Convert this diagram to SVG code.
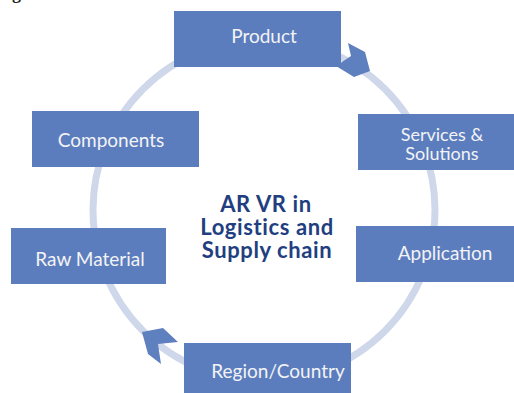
<svg xmlns="http://www.w3.org/2000/svg" width="514" height="393" viewBox="0 0 514 393">
<style>
.box{fill:#5b7dbe}
.lbl{font-family:Lato,"Liberation Sans",sans-serif;font-size:19px;fill:#f3f3f5;text-anchor:middle}
.ctr{font-family:Lato,"Liberation Sans",sans-serif;font-size:22px;font-weight:bold;letter-spacing:0.6px;fill:#213e80;text-anchor:middle}
.ring{fill:none;stroke:#cfd7ea;stroke-width:7}
.head{fill:#5f80bf}
</style>
<rect width="514" height="393" fill="#ffffff"/>
<text x="12" y="-1" font-family="Liberation Serif,serif" font-size="18" font-weight="bold" fill="#222">g</text>
<g id="connectors">
<circle class="ring" cx="264" cy="210" r="171"/>
<polygon class="head" points="348,43 365,52 370,71 354,77 336,66 351,56"/>
<polygon class="head" points="142,332 163,328 178,342 158,344 161,364 148,354"/>
</g>
<g id="product"><rect class="box" x="174" y="11" width="167" height="56"/><text class="lbl" x="264" y="43">Product</text></g>
<g id="components"><rect class="box" x="32" y="111" width="167" height="56"/><text class="lbl" x="111" y="147">Components</text></g>
<g id="services"><rect class="box" x="358" y="114" width="156" height="56"/><text class="lbl" x="442" y="141" style="font-size:18px">Services &amp;</text><text class="lbl" x="442" y="160" style="font-size:18px">Solutions</text></g>
<g id="raw-material"><rect class="box" x="11" y="228" width="155" height="56"/><text class="lbl" x="90" y="266">Raw Material</text></g>
<g id="application"><rect class="box" x="356" y="226" width="158" height="56"/><text class="lbl" x="445" y="260">Application</text></g>
<g id="region"><rect class="box" x="184" y="343" width="167" height="50"/><text class="lbl" x="278" y="378">Region/Country</text></g>
<g id="center"><text class="ctr" x="266" y="212">AR VR in</text><text class="ctr" x="267" y="235">Logistics and</text><text class="ctr" x="267" y="258">Supply chain</text></g>
</svg>
